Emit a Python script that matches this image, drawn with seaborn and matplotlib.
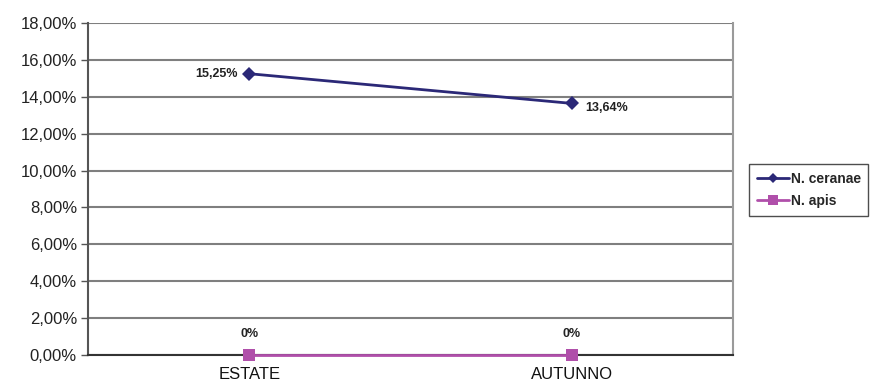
import matplotlib
matplotlib.use("Agg")
import matplotlib.pyplot as plt
import seaborn as sns
import pandas as pd
from matplotlib.ticker import FuncFormatter, FixedLocator
from matplotlib.lines import Line2D

# Prevalence by season
seasons = ["ESTATE", "AUTUNNO"]
ceranae = [15.25, 13.64]
apis = [0.0, 0.0]
series_names = ["N. ceranae", "N. apis"]
ceranae_labels = ["15,25%", "13,64%"]
apis_labels = ["0%", "0%"]
y_ticks = [0, 2, 4, 6, 8, 10, 12, 14, 16, 18]

sns.set_theme(style="white")
plt.rcParams["font.family"] = ["Liberation Sans", "DejaVu Sans"]

df = pd.DataFrame({
    "season": seasons * 2,
    "pos": [0, 1, 0, 1],
    "value": ceranae + apis,
    "series": [series_names[0]] * 2 + [series_names[1]] * 2,
})

fig = plt.figure(figsize=(8.75, 3.87), dpi=100)
ax = fig.add_axes([0.1006, 0.0827, 0.7371, 0.8579])

palette = {series_names[0]: "#2B2877", series_names[1]: "#B04FAA"}
markers = {series_names[0]: "D", series_names[1]: "s"}
sns.lineplot(data=df, x="pos", y="value", hue="series", style="series",
             palette=palette, markers=markers, dashes=False, ax=ax,
             linewidth=2.0, markersize=9, markeredgewidth=0, legend=False,
             zorder=5)
for line in ax.lines:
    line.set_clip_on(False)
    if line.get_marker() == "D":
        line.set_markersize(7.5)

ax.set_xlim(-0.5, 1.5)
ax.set_ylim(0, 18)
ax.yaxis.set_major_locator(FixedLocator(y_ticks))
ax.yaxis.set_major_formatter(FuncFormatter(lambda v, p: f"{v:.2f}%".replace(".", ",")))
ax.set_xticks([0, 1])
ax.set_xticklabels(seasons)
ax.set_xticks([0.5], minor=True)
ax.tick_params(axis="x", which="major", length=0, labelsize=12, pad=9, colors="#111111")
ax.tick_params(axis="x", which="minor", length=4, width=1, color="#333333", direction="out")
ax.tick_params(axis="y", length=5, width=1, color="#555555", labelsize=12, pad=3,
               colors="#222222", left=True)
ax.set_xlabel("")
ax.set_ylabel("")

ax.grid(axis="y", color="#7f7f7f", linewidth=1.5)
ax.set_axisbelow(True)
ax.spines["top"].set_visible(False)
ax.spines["left"].set_color("#555555")
ax.spines["left"].set_linewidth(1.5)
ax.spines["right"].set_color("#9a9a9a")
ax.spines["right"].set_linewidth(1.5)
ax.spines["bottom"].set_color("#333333")
ax.spines["bottom"].set_linewidth(1.5)

# value labels
ax.annotate(ceranae_labels[0], (0, ceranae[0]), xytext=(-8, 0), textcoords="offset points",
            ha="right", va="center", fontsize=9, fontweight="bold", color="#222222")
ax.annotate(ceranae_labels[1], (1, ceranae[1]), xytext=(10, -3), textcoords="offset points",
            ha="left", va="center", fontsize=9, fontweight="bold", color="#222222")
for i, lab in enumerate(apis_labels):
    ax.annotate(lab, (i, apis[i]), xytext=(0, 11), textcoords="offset points",
                ha="center", va="bottom", fontsize=9, fontweight="bold", color="#222222")

# legend
handles = [Line2D([], [], color=palette[s], marker=markers[s], linewidth=2,
                  markersize=5 if markers[s] == "D" else 7, markeredgewidth=0)
           for s in series_names]
leg = fig.legend(handles, series_names, loc="upper left",
                 bbox_to_anchor=(749 / 875, 1 - 164 / 387), frameon=True,
                 fancybox=False, edgecolor="#222222", handlelength=2.3,
                 handletextpad=0.15, borderpad=0.55, labelspacing=0.6,
                 prop={"size": 10, "weight": "bold"}, borderaxespad=0)
leg.get_frame().set_linewidth(1.0)

fig.savefig("out.png", dpi=100)
